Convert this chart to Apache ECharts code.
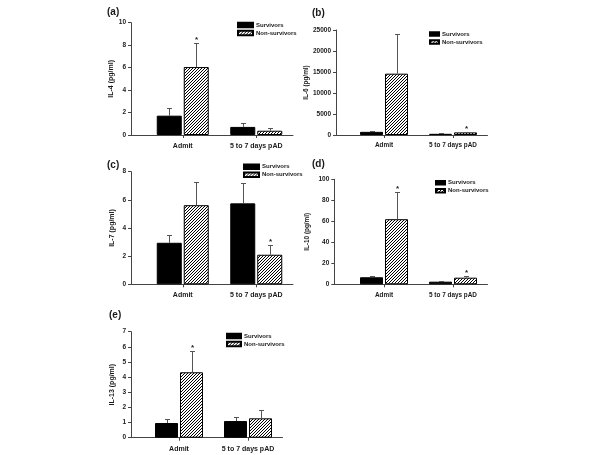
<!DOCTYPE html>
<html><head><meta charset="utf-8">
<script src="https://cdn.jsdelivr.net/npm/echarts@6/dist/echarts.min.js"></script>
<style>html,body{margin:0;padding:0;background:#fff}#c{width:600px;height:455px}</style>
</head><body><div id="c"></div>
<script>
// ---------- data ----------
const categories = ['Admit', '5 to 7 days pAD'];
const groups = ['Survivors', 'Non-survivors'];
const panelLabels = ['(a)', '(b)', '(c)', '(d)', '(e)'];
const yNames = ['IL-4 (pg/ml)', 'IL-6 (pg/ml)', 'IL-7 (pg/ml)', 'IL-10 (pg/ml)', 'IL-13 (pg/ml)'];
const yMax = [10, 25000, 8, 100, 7];
const yStep = [2, 5000, 2, 20, 1];

const il4Surv = [1.72, 0.72],   il4SurvErr = [0.71, 0.32];
const il4Non = [6.05, 0.38],    il4NonErr = [2.1, 0.2];
const il4Star = [0, 0],         il4NonStar = [1, 0];

const il6Surv = [750, 280],     il6SurvErr = [300, 80];
const il6Non = [14600, 620],    il6NonErr = [9400, 170];
const il6Star = [0, 0],         il6NonStar = [0, 1];

const il7Surv = [2.95, 5.75],   il7SurvErr = [0.55, 1.45];
const il7Non = [5.62, 2.1],     il7NonErr = [1.68, 0.7];
const il7Star = [0, 0],         il7NonStar = [0, 1];

const il10Surv = [6.7, 2.5],    il10SurvErr = [1.0, 0.8];
const il10Non = [62, 6.3],      il10NonErr = [26, 1.4];
const il10Star = [0, 0],        il10NonStar = [1, 1];

const il13Surv = [0.97, 1.1],   il13SurvErr = [0.24, 0.24];
const il13Non = [4.32, 1.28],   il13NonErr = [1.41, 0.52];
const il13Star = [0, 0],        il13NonStar = [1, 0];

const panelData = [
  [il4Surv, il4SurvErr, il4Star, il4Non, il4NonErr, il4NonStar],
  [il6Surv, il6SurvErr, il6Star, il6Non, il6NonErr, il6NonStar],
  [il7Surv, il7SurvErr, il7Star, il7Non, il7NonErr, il7NonStar],
  [il10Surv, il10SurvErr, il10Star, il10Non, il10NonErr, il10NonStar],
  [il13Surv, il13SurvErr, il13Star, il13Non, il13NonErr, il13NonStar]
];

// ---------- layout (pixels) ----------
const layout = [
  {ax:131,   l:146,   r:293,   t:22.7,  b:135,   bw:25, gap:2, fs:7,   lab:[107,7],   leg:[237,21,15,4.5], ng:15.5},
  {ax:336,   l:349.5, r:487.5, t:30,    b:135,   bw:23, gap:2, fs:6.4, lab:[312,8],   leg:[429,30,9,3.5],  ng:27},
  {ax:131,   l:146,   r:293,   t:171.7, b:284.3, bw:25, gap:2, fs:7,   lab:[107,160], leg:[243,162.7,15,4.5], ng:15.5},
  {ax:334.3, l:349.5, r:487.5, t:179.3, b:284.3, bw:23, gap:2, fs:6.4, lab:[312,159], leg:[435,178.7,9,3.5], ng:24},
  {ax:131,   l:144.5, r:282.5, t:331.7, b:437.7, bw:23, gap:2, fs:7,   lab:[109,310], leg:[226,332,14,4.5], ng:15.5}
];

const FONT = 'Liberation Sans, Arial, sans-serif';
const TXT = '#1a1a1a';
const AXC = '#444';

// hatch pattern
const hatch = document.createElement('canvas');
hatch.width = 3; hatch.height = 3;
(function () {
  const g = hatch.getContext('2d');
  g.fillStyle = '#fff'; g.fillRect(0, 0, 3, 3);
  g.fillStyle = '#000';
  for (let i = 0; i < 3; i++) g.fillRect(i, 2 - i, 1, 1);
})();
const hatchFill = {image: hatch, repeat: 'repeat'};

function errRender(bw, gap) {
  return function (params, api) {
    const cat = api.value(0), s = api.value(1), v = api.value(2), e = api.value(3), star = api.value(4);
    const base = api.coord([cat, v]);
    const top = api.coord([cat, v + e]);
    const dx = (s === 0 ? -1 : 1) * (bw + gap) / 2;
    const x = Math.round(base[0] + dx) + 0.5;
    const ty = Math.round(top[1]) + 0.5;
    const ch = [
      {type: 'line', shape: {x1: x, y1: base[1], x2: x, y2: ty}, style: {stroke: '#555', lineWidth: 1}},
      {type: 'line', shape: {x1: x - 2.5, y1: ty, x2: x + 2.5, y2: ty}, style: {stroke: '#555', lineWidth: 1}}
    ];
    if (star) ch.push({type: 'text', style: {text: '*', x: x, y: ty - 4, align: 'center', verticalAlign: 'middle',
      font: 'bold 8px ' + FONT, fill: TXT}});
    return {type: 'group', children: ch};
  };
}

const grid = [], xAxis = [], yAxis = [], series = [], legend = [], title = [];
layout.forEach((L, i) => {
  const [surv, survErr, survStar, non, nonErr, nonStar] = panelData[i];
  const h = L.b - L.t;
  const gi = 2 * i, go = 2 * i + 1;
  grid.push({left: L.l, top: L.t, width: L.r - L.l, height: h});
  grid.push({left: L.ax, top: L.t, width: L.r - L.ax, height: h});
  xAxis.push({type: 'category', gridIndex: gi, data: categories, boundaryGap: true,
    axisLine: {show: false},
    axisTick: {show: true, alignWithLabel: true, length: 3, lineStyle: {color: AXC}},
    axisLabel: {interval: 0, margin: 7.5, fontSize: L.fs, fontWeight: 'bold', fontFamily: FONT, color: TXT},
    splitLine: {show: false}});
  xAxis.push({type: 'value', gridIndex: go, min: 0, max: 1,
    axisLine: {show: true, onZero: false, lineStyle: {color: AXC, width: 1}},
    axisTick: {show: false}, axisLabel: {show: false}, splitLine: {show: false}});
  yAxis.push({type: 'value', gridIndex: gi, min: 0, max: yMax[i], interval: yStep[i], show: false});
  yAxis.push({type: 'value', gridIndex: go, min: 0, max: yMax[i], interval: yStep[i],
    name: yNames[i], nameLocation: 'middle', nameGap: L.ng,
    nameTextStyle: {fontSize: L.fs, fontWeight: 'bold', fontFamily: FONT, color: TXT},
    axisLine: {show: true, lineStyle: {color: AXC, width: 1}},
    axisTick: {show: true, inside: false, length: 3, lineStyle: {color: AXC}},
    axisLabel: {margin: 5, fontSize: 6.5, fontWeight: 'bold', fontFamily: FONT, color: TXT,
      formatter: v => String(v)},
    splitLine: {show: false}});
  const pct = (L.gap / L.bw * 100) + '%';
  series.push({type: 'bar', name: groups[0], xAxisIndex: gi, yAxisIndex: gi, data: surv,
    barWidth: L.bw, barGap: pct, itemStyle: {color: '#000', borderColor: '#000', borderWidth: 1}, silent: true});
  series.push({type: 'bar', name: groups[1], xAxisIndex: gi, yAxisIndex: gi, data: non,
    barWidth: L.bw, barGap: pct, itemStyle: {color: hatchFill, borderColor: '#000', borderWidth: 1}, silent: true});
  const errData = [];
  for (let c = 0; c < categories.length; c++) {
    errData.push([c, 0, surv[c], survErr[c], survStar[c]]);
    errData.push([c, 1, non[c], nonErr[c], nonStar[c]]);
  }
  series.push({type: 'custom', xAxisIndex: gi, yAxisIndex: gi, data: errData, z: 5, silent: true,
    renderItem: errRender(L.bw, L.gap), encode: {x: 0, y: 2}});
  legend.push({data: groups, orient: 'vertical', left: L.leg[0], top: L.leg[1], padding: 0,
    itemWidth: L.leg[2], itemHeight: L.leg[3], itemGap: 0, icon: 'rect', selectedMode: false,
    textStyle: {fontSize: 6, fontWeight: 'bold', fontFamily: FONT, color: TXT, lineHeight: 8, padding: [0, 0, 0, -2]}});
  title.push({text: panelLabels[i], left: L.lab[0], top: L.lab[1], padding: 0,
    textStyle: {fontSize: 10, fontWeight: 'bold', fontFamily: FONT, color: TXT}});
});

const chart = echarts.init(document.getElementById('c'), null, {renderer: 'canvas'});
chart.setOption({backgroundColor: '#fff', animation: false, grid, xAxis, yAxis, series, legend, title});
</script></body></html>
